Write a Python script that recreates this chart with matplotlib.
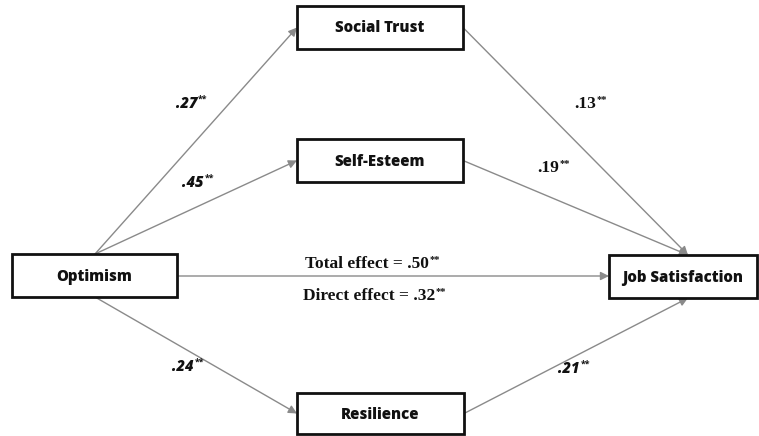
import matplotlib
matplotlib.use("Agg")
import matplotlib.pyplot as plt
from matplotlib.patches import Rectangle, FancyArrowPatch

# ---- data ----
node_names = ["Optimism", "Social Trust", "Self-Esteem", "Resilience", "Job Satisfaction"]
a_paths = [".27", ".45", ".24"]          # Optimism -> mediators
b_paths = [".13", ".19", ".21"]          # mediators -> Job Satisfaction
total_effect = ".50"
direct_effect = ".32"
sig = "**"

# ---- layout (pixel coordinates, y downward) ----
W, H = 759, 436
boxes = {
    "Optimism": (12, 254, 177, 297),
    "Social Trust": (297, 6, 463, 49),
    "Self-Esteem": (297, 139, 463, 182),
    "Resilience": (297, 393, 464, 434),
    "Job Satisfaction": (609, 255, 757, 298),
}

fig = plt.figure(figsize=(W / 100, H / 100), dpi=100)
ax = fig.add_axes([0, 0, 1, 1])
ax.set_xlim(0, W)
ax.set_ylim(H, 0)
ax.axis("off")

box_font = dict(family=["Open Sans", "DejaVu Sans"], fontweight="heavy", fontsize=10.8)
for name in node_names:
    x0, y0, x1, y1 = boxes[name]
    ax.add_patch(Rectangle((x0, y0), x1 - x0, y1 - y0, fill=True, facecolor="white",
                           edgecolor="#111111", linewidth=2, zorder=3))
    ax.text((x0 + x1) / 2, (y0 + y1) / 2 + 1, name, ha="center", va="center",
            color="#111111", zorder=4, **box_font)

def arrow(p, q):
    ax.add_patch(FancyArrowPatch(p, q, arrowstyle="-|>,head_length=5,head_width=2.5",
                                 color="#8a8a8a", linewidth=1.0, shrinkA=0, shrinkB=0,
                                 zorder=2))

ob = boxes["Optimism"]
js = boxes["Job Satisfaction"]
st = boxes["Social Trust"]
se = boxes["Self-Esteem"]
rs = boxes["Resilience"]
ox = 95
jx = 688
mid_y = 276
arrow((ox, ob[1]), (st[0], (st[1] + st[3]) / 2))
arrow((ox, ob[1]), (se[0], (se[1] + se[3]) / 2))
arrow((ox, ob[3]), (rs[0], (rs[1] + rs[3]) / 2))
arrow((st[2], (st[1] + st[3]) / 2), (jx, js[1]))
arrow((se[2], (se[1] + se[3]) / 2), (jx, js[1]))
arrow((rs[2], (rs[1] + rs[3]) / 2), (jx, js[3]))
arrow((ob[2], mid_y), (js[0], mid_y))

sans_bi = dict(family=["Open Sans", "DejaVu Sans"], fontweight="heavy", fontstyle="italic", fontsize=10.5)
serif_b = dict(family=["Liberation Serif", "DejaVu Serif"], fontweight="bold", fontsize=12.5)

def coef(x, y, val, style, ha="right"):
    t = ax.text(x, y, val, ha=ha, va="center", color="#111111", **style)
    ax.annotate(sig, xy=(1, 0.78), xycoords=t, xytext=(0.5, 0), textcoords="offset points",
                ha="left", va="center", color="#111111",
                fontsize=style["fontsize"] * 0.6, family=style["family"], fontweight="bold")

coef(197, 104, a_paths[0], sans_bi)
coef(204, 183, a_paths[1], sans_bi)
coef(194, 367, a_paths[2], sans_bi)
coef(596, 104, b_paths[0], serif_b)
coef(559, 168, b_paths[1], serif_b)
coef(580, 369, b_paths[2], sans_bi)

coef(367, 264, "Total effect = " + total_effect, serif_b, ha="center")
coef(369, 296, "Direct effect = " + direct_effect, serif_b, ha="center")

fig.savefig("out.png", dpi=100, facecolor="white")
